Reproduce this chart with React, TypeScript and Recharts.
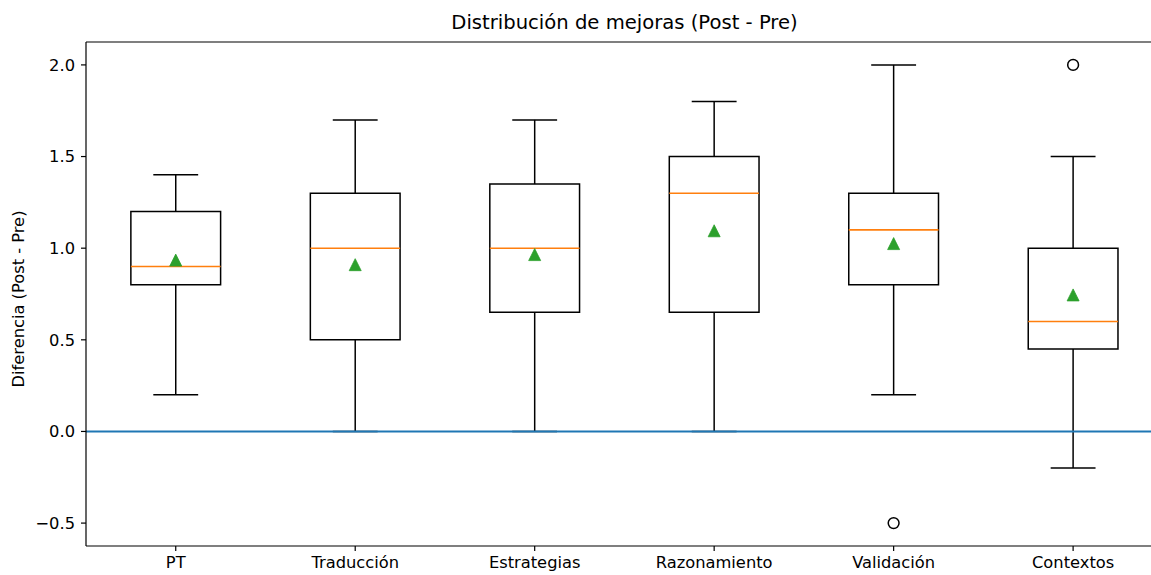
import React from 'react';
import {
  ComposedChart,
  XAxis,
  YAxis,
  Scatter,
  ReferenceLine,
  ReferenceArea,
  Label,
} from 'recharts';

// ---- data ----
const categories = ['PT', 'Traducción', 'Estrategias', 'Razonamiento', 'Validación', 'Contextos'];
const whiskerLow = [0.2, 0.0, 0.0, 0.0, 0.2, -0.2];
const q1 = [0.8, 0.5, 0.65, 0.65, 0.8, 0.45];
const medians = [0.9, 1.0, 1.0, 1.3, 1.1, 0.6];
const q3 = [1.2, 1.3, 1.35, 1.5, 1.3, 1.0];
const whiskerHigh = [1.4, 1.7, 1.7, 1.8, 2.0, 1.5];
const means = [0.935, 0.91, 0.965, 1.095, 1.025, 0.745];
const outlierCategories = ['Validación', 'Contextos'];
const outlierValues = [-0.5, 2.0];
const yTicks = [-0.5, 0, 0.5, 1.0, 1.5, 2.0];
const referenceValue = 0;
const titleText = 'Distribución de mejoras (Post - Pre)';
const yLabelText = 'Diferencia (Post - Pre)';

// ---- derived ----
const positions = categories.map((_, i) => i + 1);
const xTicks = positions;
// the original figure is cropped on the right, so the visible x-range ends a little before 6.5
const xDomain = [0.5, 6.434];
const yDomain = [-0.625, 2.125];
const meanData = positions.map((p, i) => ({ x: p, y: means[i] }));
const outlierData = outlierCategories.map((c, i) => ({ x: categories.indexOf(c) + 1, y: outlierValues[i] }));

const BOX_HALF = 0.25;
const CAP_HALF = 0.125;
const FONT = 'DejaVu Sans, Verdana, sans-serif';
const BLACK = '#000000';
const LW = 1.5;

const Triangle = (props: any) => {
  const { cx, cy } = props;
  if (cx == null || cy == null) return null;
  const s = 6;
  return (
    <polygon
      points={`${cx},${cy - s} ${cx - s},${cy + s} ${cx + s},${cy + s}`}
      fill="#2ca02c"
      stroke="#2ca02c"
      strokeWidth={0.8}
    />
  );
};

const Circle = (props: any) => {
  const { cx, cy } = props;
  if (cx == null || cy == null) return null;
  return <circle cx={cx} cy={cy} r={5.4} fill="none" stroke={BLACK} strokeWidth={1.5} />;
};

const fmtY = (v: number) => (v < 0 ? '\u2212' + Math.abs(v).toFixed(1) : v.toFixed(1));

export default function App() {
  return (
    <div
      style={{
        position: 'absolute',
        left: 0,
        top: 0,
        width: 1151,
        height: 575,
        overflow: 'hidden',
        background: '#ffffff',
      }}
    >
      <ComposedChart
        width={1151}
        height={575}
        margin={{ top: 41, right: 0, bottom: 0, left: 0 }}
        style={{ fontFamily: FONT }}
      >
        <XAxis
          dataKey="x"
          type="number"
          domain={xDomain}
          allowDataOverflow
          ticks={xTicks}
          interval={0}
          tickFormatter={(v: number) => categories[Math.round(v) - 1] ?? ''}
          height={29}
          tickSize={5}
          tickMargin={5}
          axisLine={{ stroke: BLACK, strokeWidth: 1.2 }}
          tickLine={{ stroke: BLACK, strokeWidth: 1.2 }}
          tick={{ fill: BLACK, fontSize: 16.3, fontFamily: FONT }}
        >
          <Label
            content={(props: any) => {
              const vb = props.viewBox || { x: 86, width: 1065 };
              return (
                <text
                  x={vb.x + 538.5}
                  y={29}
                  textAnchor="middle"
                  fill={BLACK}
                  fontSize={19.6}
                  fontFamily={FONT}
                >
                  {titleText}
                </text>
              );
            }}
          />
        </XAxis>
        <XAxis
          xAxisId="top"
          orientation="top"
          type="number"
          domain={xDomain}
          allowDataOverflow
          height={1}
          tick={false}
          tickLine={false}
          axisLine={{ stroke: BLACK, strokeWidth: 1.2 }}
        />
        <YAxis
          dataKey="y"
          type="number"
          domain={yDomain}
          allowDataOverflow
          ticks={yTicks}
          interval={0}
          tickFormatter={fmtY}
          width={86}
          tickSize={5}
          tickMargin={6}
          axisLine={{ stroke: BLACK, strokeWidth: 1.2 }}
          tickLine={{ stroke: BLACK, strokeWidth: 1.2 }}
          tick={{ fill: BLACK, fontSize: 16.3, fontFamily: FONT }}
        >
          <Label
            content={(props: any) => {
              const vb = props.viewBox || { x: 0, y: 42, width: 86, height: 504 };
              const cy = vb.y + vb.height / 2 + 5;
              return (
                <text
                  transform={`translate(24, ${cy}) rotate(-90)`}
                  textAnchor="middle"
                  fill={BLACK}
                  fontSize={16.3}
                  fontFamily={FONT}
                >
                  {yLabelText}
                </text>
              );
            }}
          />
        </YAxis>

        {positions.map((p, i) => (
          <ReferenceArea
            key={`box-${i}`}
            x1={p - BOX_HALF}
            x2={p + BOX_HALF}
            y1={q1[i]}
            y2={q3[i]}
            fill="none"
            fillOpacity={0}
            stroke={BLACK}
            strokeWidth={LW}
            strokeOpacity={1}
          />
        ))}
        {positions.map((p, i) => (
          <ReferenceLine
            key={`wl-${i}`}
            segment={[{ x: p, y: whiskerLow[i] }, { x: p, y: q1[i] }]}
            stroke={BLACK}
            strokeWidth={LW}
          />
        ))}
        {positions.map((p, i) => (
          <ReferenceLine
            key={`wh-${i}`}
            segment={[{ x: p, y: q3[i] }, { x: p, y: whiskerHigh[i] }]}
            stroke={BLACK}
            strokeWidth={LW}
          />
        ))}
        {positions.map((p, i) => (
          <ReferenceLine
            key={`cl-${i}`}
            segment={[{ x: p - CAP_HALF, y: whiskerLow[i] }, { x: p + CAP_HALF, y: whiskerLow[i] }]}
            stroke={BLACK}
            strokeWidth={LW}
          />
        ))}
        {positions.map((p, i) => (
          <ReferenceLine
            key={`ch-${i}`}
            segment={[{ x: p - CAP_HALF, y: whiskerHigh[i] }, { x: p + CAP_HALF, y: whiskerHigh[i] }]}
            stroke={BLACK}
            strokeWidth={LW}
          />
        ))}
        {positions.map((p, i) => (
          <ReferenceLine
            key={`med-${i}`}
            segment={[{ x: p - BOX_HALF, y: medians[i] }, { x: p + BOX_HALF, y: medians[i] }]}
            stroke="#ff7f0e"
            strokeWidth={1.6}
          />
        ))}

        <Scatter data={outlierData} shape={Circle} isAnimationActive={false} />
        <Scatter data={meanData} shape={Triangle} isAnimationActive={false} />

        <ReferenceLine y={referenceValue} stroke="#1f77b4" strokeWidth={2} />
      </ComposedChart>
    </div>
  );
}
